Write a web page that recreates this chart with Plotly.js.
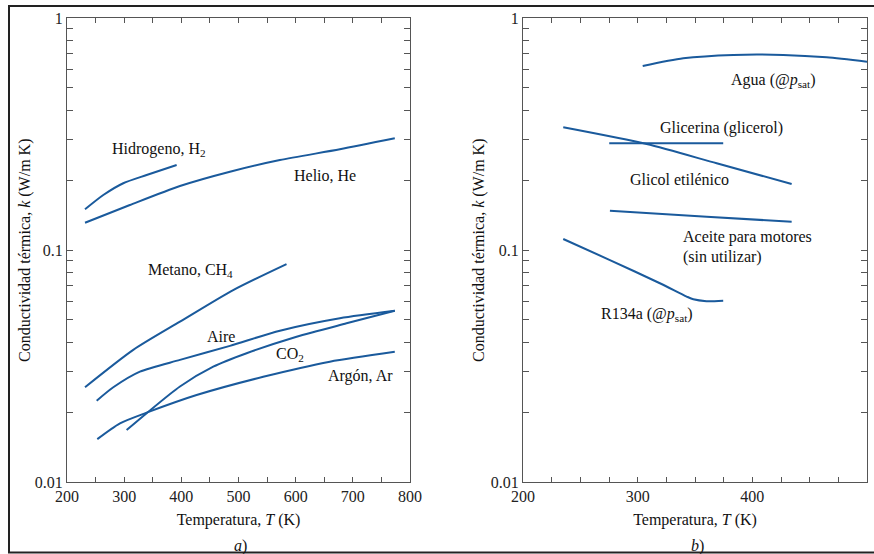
<!DOCTYPE html>
<html>
<head>
<meta charset="utf-8">
<script src="https://cdn.plot.ly/plotly-3.0.1.min.js"></script>
<style>
html,body{margin:0;padding:0;background:#fff;}
#chart{width:874px;height:554px;}
</style>
</head>
<body>
<div id="chart"></div>
<script>
// ---- Panel a) gases ----
const h2T   = [231.5, 263.5, 298.4, 339.3, 391.8];
const h2K   = [0.1498, 0.1726, 0.194, 0.2105, 0.2325];
const heT   = [231.5, 310, 397.6, 485, 572.4, 677.3, 773.4];
const heK   = [0.131, 0.1563, 0.1888, 0.2176, 0.2443, 0.2717, 0.303];
const ch4T  = [231.5, 315.9, 397.6, 490.7, 584];
const ch4K  = [0.0256, 0.0371, 0.0491, 0.0672, 0.087];
const aireT = [251.9, 281, 327.6, 397.6, 485, 572.4, 677.3, 773.4];
const aireK = [0.0224, 0.0256, 0.0299, 0.0336, 0.0386, 0.0449, 0.0508, 0.0547];
const co2T  = [304.3, 339.3, 397.6, 455.8, 514.2, 601.6, 689, 773.4];
const co2K  = [0.01675, 0.0198, 0.0258, 0.0314, 0.0359, 0.0423, 0.0483, 0.0547];
const arT   = [253, 292.7, 339.3, 426.7, 543.2, 659.8, 773.4];
const arK   = [0.0153, 0.0179, 0.0199, 0.0237, 0.0284, 0.0330, 0.0364];

// ---- Panel b) liquids ----
const aguaT   = [304.4, 339.8, 383.4, 427, 464.8, 500];
const aguaK   = [0.621, 0.670, 0.693, 0.693, 0.677, 0.648];
const glicerT = [275.2, 374.6];
const glicerK = [0.2884, 0.2884];
const glicolT = [235.1, 307.8, 368.9, 434.3];
const glicolK = [0.338, 0.2862, 0.2364, 0.1925];
const aceiteT = [275.8, 360.2, 434.3];
const aceiteK = [0.1477, 0.139, 0.1324];
const r134T   = [235.1, 275.8, 319.4, 342.7, 348.5, 360, 374.6];
const r134K   = [0.1115, 0.0905, 0.0719, 0.063, 0.0613, 0.0602, 0.0605];

// ---- Tick labels ----
const xTicksA = [200,250,300,350,400,450,500,550,600,650,700,750,800];
const xTextA  = ['200','','300','','400','','500','','600','','700','','800'];
const xTicksB = [200,225,250,275,300,325,350,375,400,425,450,475,500];
const xTextB  = ['200','','','','300','','','','400','','','','500'];
const yTicks = [0.01,0.02,0.03,0.04,0.05,0.06,0.07,0.08,0.09,0.1,0.2,0.3,0.4,0.5,0.6,0.7,0.8,0.9,1];
const yText  = ['0.01','','','','','','','','','0.1','','','','','','','','','1'];

const lineColor = '#1a5a9c';
const FONT = 'Liberation Serif, Times New Roman, serif';
const W = 874, H = 554;

function tr(x, y, xa, ya) {
  return {x: x, y: y, xaxis: xa, yaxis: ya, type: 'scatter', mode: 'lines',
          line: {color: lineColor, width: 2, shape: 'spline', smoothing: 0.7},
          hoverinfo: 'skip'};
}
const data = [
  tr(h2T, h2K, 'x', 'y'), tr(heT, heK, 'x', 'y'), tr(ch4T, ch4K, 'x', 'y'),
  tr(aireT, aireK, 'x', 'y'), tr(co2T, co2K, 'x', 'y'), tr(arT, arK, 'x', 'y'),
  tr(aguaT, aguaK, 'x2', 'y2'), tr(glicerT, glicerK, 'x2', 'y2'),
  tr(glicolT, glicolK, 'x2', 'y2'), tr(aceiteT, aceiteK, 'x2', 'y2'),
  tr(r134T, r134K, 'x2', 'y2')
];

function xAxis(dom, rng, tv, tt) {
  return {domain: dom, range: rng, tickvals: tv, ticktext: tt, ticks: 'inside', ticklen: 5,
    tickcolor: '#555', tickwidth: 1, showline: true, linecolor: '#555', linewidth: 1,
    mirror: 'ticks', showgrid: false, zeroline: false, fixedrange: true,
    tickfont: {family: FONT, size: 16, color: '#222'},
    title: {text: 'Temperatura, <i>T</i> (K)', font: {family: FONT, size: 16, color: '#111'}, standoff: 9}};
}
function yAxis(anchor) {
  return {domain: [1 - 482 / H, 1 - 18 / H], type: 'log', range: [-2, 0], anchor: anchor,
    tickvals: yTicks, ticktext: yText, ticks: 'inside', ticklen: 6,
    tickcolor: '#555', tickwidth: 1, showline: true, linecolor: '#555', linewidth: 1,
    mirror: 'ticks', showgrid: false, zeroline: false, fixedrange: true,
    tickfont: {family: FONT, size: 16, color: '#222'}};
}

function lab(text, T, k, xa, ya) {
  return {text: text, x: T, y: Math.log10(k), xref: xa, yref: ya, xanchor: 'left', yanchor: 'middle',
          showarrow: false, font: {family: FONT, size: 16, color: '#111'}};
}
function paperText(text, px, py, angle) {
  return {text: text, x: px / W, y: 1 - py / H, xref: 'paper', yref: 'paper', showarrow: false,
          xanchor: 'center', yanchor: 'middle', textangle: angle || 0,
          font: {family: FONT, size: 16, color: '#111'}};
}
const yTitle = 'Conductividad térmica, <i>k</i> (W/m K)';
const annotations = [
  lab('Hidrogeno, H<sub>2</sub>', 275, 0.272, 'x', 'y'),
  lab('Helio, He', 594, 0.2105, 'x', 'y'),
  lab('Metano, CH<sub>4</sub>', 339, 0.0812, 'x', 'y'),
  lab('Aire', 441, 0.0422, 'x', 'y'),
  lab('CO<sub>2</sub>', 562, 0.0356, 'x', 'y'),
  lab('Argón, Ar', 653, 0.0286, 'x', 'y'),
  lab('Agua (@<i>p</i><sub>sat</sub>)', 380, 0.540, 'x2', 'y2'),
  lab('Glicerina (glicerol)', 318, 0.3345, 'x2', 'y2'),
  lab('Glicol etilénico', 292, 0.2013, 'x2', 'y2'),
  lab('Aceite para motores', 338, 0.1138, 'x2', 'y2'),
  lab('(sin utilizar)', 338, 0.0933, 'x2', 'y2'),
  lab('R134a (@<i>p</i><sub>sat</sub>)', 266.5, 0.0525, 'x2', 'y2'),
  paperText(yTitle, 25, 250, -90),
  paperText(yTitle, 479, 250, -90),
  paperText('<i>a</i>)', 240, 546),
  paperText('<i>b</i>)', 697, 546)
];

const frame = '#222';
const shapes = [
  {type: 'line', xref: 'paper', yref: 'paper', x0: 9 / W, x1: 9 / W, y0: 1 - 6 / H, y1: 1 - 552.5 / H, line: {color: frame, width: 2}},
  {type: 'line', xref: 'paper', yref: 'paper', x0: 8 / W, x1: 1.01, y0: 1 - 6 / H, y1: 1 - 6 / H, line: {color: frame, width: 2}},
  {type: 'line', xref: 'paper', yref: 'paper', x0: 8 / W, x1: 1.01, y0: 1 - 552.5 / H, y1: 1 - 552.5 / H, line: {color: frame, width: 2}}
];

const layout = {
  width: W, height: H, margin: {l: 0, r: 0, t: 0, b: 0},
  paper_bgcolor: '#fff', plot_bgcolor: '#fff', showlegend: false,
  font: {family: FONT, size: 16, color: '#111'},
  xaxis: Object.assign(xAxis([67 / W, 410 / W], [200, 800], xTicksA, xTextA), {anchor: 'y'}),
  yaxis: yAxis('x'),
  xaxis2: Object.assign(xAxis([523 / W, 867 / W], [200, 500], xTicksB, xTextB), {anchor: 'y2'}),
  yaxis2: yAxis('x2'),
  annotations: annotations,
  shapes: shapes
};

Plotly.newPlot('chart', data, layout, {staticPlot: true, displayModeBar: false});
</script>
</body>
</html>
